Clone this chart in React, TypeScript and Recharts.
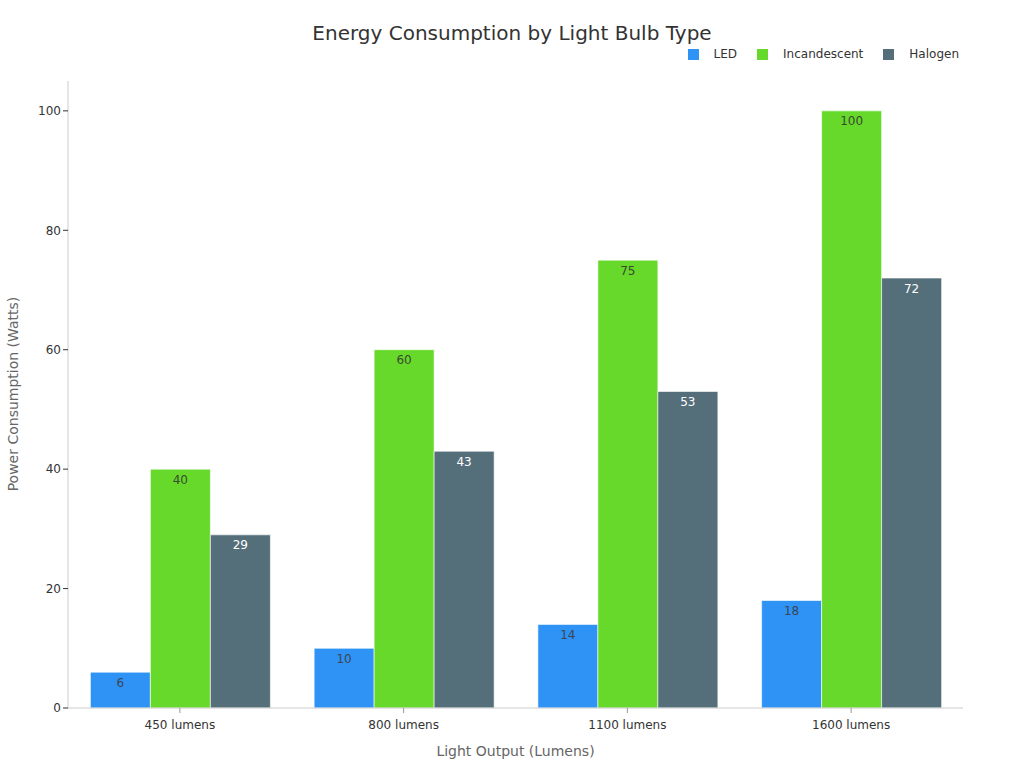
import React from 'react';
import { BarChart, Bar, XAxis, YAxis, LabelList } from 'recharts';

const categories = ['450 lumens', '800 lumens', '1100 lumens', '1600 lumens'];
const ledWatts = [6, 10, 14, 18];
const incandescentWatts = [40, 60, 75, 100];
const halogenWatts = [29, 43, 53, 72];
const yTicks = [0, 20, 40, 60, 80, 100];

const series = [
  { key: 'LED', color: '#2f93f5', labelColor: '#3a4652' },
  { key: 'Incandescent', color: '#66d92a', labelColor: '#3a4a30' },
  { key: 'Halogen', color: '#546e7a', labelColor: '#ffffff' },
];

const data = categories.map((c, i) => ({
  name: c,
  LED: ledWatts[i],
  Incandescent: incandescentWatts[i],
  Halogen: halogenWatts[i],
}));

const FONT = '"DejaVu Sans", sans-serif';

function LegendBox() {
  return (
    <div style={{ position: 'absolute', top: 47, right: 65, display: 'flex', fontFamily: FONT, fontSize: 12, color: '#333' }}>
      {series.map((s) => (
        <div key={s.key} style={{ display: 'flex', alignItems: 'center', marginLeft: 20 }}>
          <span style={{ width: 11, height: 11, background: s.color, display: 'inline-block', marginRight: 15 }} />
          <span>{s.key}</span>
        </div>
      ))}
    </div>
  );
}

export default function App() {
  return (
    <div style={{ position: 'absolute', left: 0, top: 0, width: 1024, height: 768, background: '#fff', fontFamily: FONT }}>
      <div style={{ position: 'absolute', top: 21, width: 1024, textAlign: 'center', fontSize: 20, color: '#333' }}>
        Energy Consumption by Light Bulb Type
      </div>
      <LegendBox />
      <div style={{ position: 'absolute', top: 743, left: 68, width: 895, textAlign: 'center', fontSize: 14, color: '#666' }}>
        Light Output (Lumens)
      </div>
      <div
        style={{
          position: 'absolute', left: 13, top: 394, fontSize: 14, color: '#666', whiteSpace: 'nowrap',
          transform: 'translate(-50%, -50%) rotate(-90deg)',
        }}
      >
        Power Consumption (Watts)
      </div>
      <BarChart
        width={1024}
        height={768}
        data={data}
        margin={{ top: 81, right: 61, left: 8, bottom: 30 }}
        barCategoryGap="10%"
        barGap={0}
        style={{ position: 'absolute', left: 0, top: 0 }}
      >
        <XAxis
          dataKey="name"
          height={30}
          tick={{ fontSize: 12, fill: '#333', fontFamily: FONT }}
          axisLine={{ stroke: '#ccc' }}
          tickLine={{ stroke: '#999' }}
          tickSize={5}
          tickMargin={7}
        />
        <YAxis
          width={60}
          domain={[0, 105]}
          ticks={yTicks}
          tick={{ fontSize: 12, fill: '#333', fontFamily: FONT }}
          axisLine={{ stroke: '#ccc' }}
          tickLine={{ stroke: '#333' }}
          tickSize={5}
        />
        {series.map((s) => (
          <Bar key={s.key} dataKey={s.key} fill={s.color} stroke="#ffffff" strokeOpacity={0.6} strokeWidth={1} isAnimationActive={false}>
            <LabelList dataKey={s.key} position="insideTop" fill={s.labelColor} fontSize={12} fontFamily={FONT} offset={6} />
          </Bar>
        ))}
      </BarChart>
    </div>
  );
}
